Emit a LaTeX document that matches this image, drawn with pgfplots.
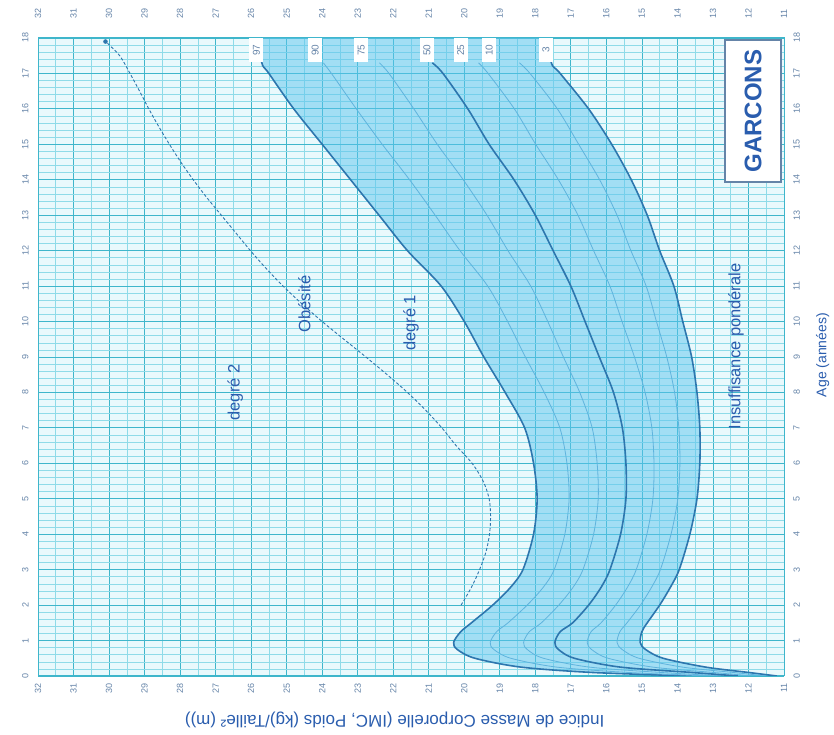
\documentclass[border=0pt]{standalone}
\usepackage{fontspec}
\setmainfont{Liberation Sans}
\usepackage{pgfplots}
\pgfplotsset{compat=1.18}
\usepgfplotslibrary{fillbetween}

\definecolor{gridmaj}{HTML}{3FB6CB}
\definecolor{gridmin}{HTML}{8FDBE8}
\definecolor{bgcyan}{HTML}{E9F9FC}
\definecolor{bandblue}{HTML}{5CC4EE}
\definecolor{curveblue}{HTML}{2D76AE}
\definecolor{thinblue}{HTML}{5FB3DD}
\definecolor{txtblue}{HTML}{2A5DAE}
\definecolor{ticktxt}{HTML}{6584A8}

\begin{document}
\begin{tikzpicture}
\begin{axis}[
    set layers,
    scale only axis, width=746pt, height=638pt,
    x dir=reverse, xmin=11, xmax=32, ymin=0, ymax=18,
    xtick={11,...,32}, ytick={0,...,18},
    minor x tick num=1, minor y tick num=4,
    grid=both,
    major grid style={draw=gridmaj, line width=0.8pt},
    minor grid style={draw=gridmin, line width=0.6pt},
    axis background/.style={fill=bgcyan},
    axis line style={draw=gridmaj, line width=1pt},
    tick style={draw=none},
    tick label style={font=\fontsize{9}{9}\selectfont, text=ticktxt},
    xticklabel style={rotate=90, anchor=east, inner sep=1pt, outer sep=6pt},
    yticklabel style={rotate=90, anchor=south, inner sep=1pt, outer sep=8.5pt},
    /pgf/number format/assume math mode=true,
    every axis plot/.append style={smooth, tension=0.5},
  ]
  % 97e percentile (degre 1)
  \addplot[name path=p97, draw=curveblue, line width=1.6pt] coordinates {
    (13.6,0) (16.4,0.1) (18.4,0.25) (19.7,0.5) (20.2,0.75) (20.3,0.95)
    (20.1,1.25) (19.8,1.5) (19.2,2) (18.7,2.5) (18.35,3) (18.05,4)
    (17.95,5) (18.05,6) (18.3,7) (18.85,8) (19.45,9) (20.0,10) (20.65,11)
    (21.6,12) (22.4,13) (23.2,14) (24.0,15) (24.8,16) (25.5,17) (25.7,17.3) (25.7,18)
  };
  % 3e percentile
  \addplot[name path=p3, draw=curveblue, line width=1.6pt] coordinates {
    (11.2,0) (12.0,0.1) (13.2,0.25) (14.4,0.5) (14.9,0.75) (15.05,0.95)
    (15.0,1.25) (14.85,1.5) (14.5,2) (14.2,2.5) (13.95,3) (13.65,4)
    (13.45,5) (13.37,6) (13.37,7) (13.45,8) (13.6,9) (13.85,10) (14.1,11)
    (14.5,12) (14.85,13) (15.3,14) (15.85,15) (16.5,16) (17.3,17) (17.55,17.3) (17.55,18)
  };
  \addplot[fill=bandblue, fill opacity=0.5, draw=none] fill between[of=p97 and p3];
  % 10e
  \addplot[draw=thinblue, line width=0.8pt] coordinates {
    (11.50,0) (12.43,0.1) (13.85,0.25) (15.08,0.5) (15.56,0.75) (15.70,0.95)
    (15.62,1.25) (15.42,1.5) (15.04,2) (14.73,2.5) (14.48,3) (14.18,4)
    (13.99,5) (13.93,6) (13.96,7) (14.08,8) (14.30,9) (14.59,10) (14.88,11)
    (15.31,12) (15.70,13) (16.19,14) (16.78,15) (17.38,16) (18.15,17) (18.45,17.3)
  };
  % 25e
  \addplot[draw=thinblue, line width=0.8pt] coordinates {
    (11.88,0) (12.99,0.1) (14.69,0.25) (15.95,0.5) (16.42,0.75) (16.54,0.95)
    (16.43,1.25) (16.15,1.5) (15.74,2) (15.41,2.5) (15.16,3) (14.86,4)
    (14.69,5) (14.66,6) (14.72,7) (14.91,8) (15.21,9) (15.56,10) (15.90,11)
    (16.36,12) (16.80,13) (17.35,14) (17.99,15) (18.59,16) (19.33,17) (19.60,17.3)
  };
  % 75e
  \addplot[draw=thinblue, line width=0.8pt] coordinates {
    (12.70,0) (14.47,0.1) (16.47,0.25) (17.77,0.5) (18.23,0.75) (18.33,0.95)
    (18.17,1.25) (17.83,1.5) (17.34,2) (16.94,2.5) (16.66,3) (16.36,4)
    (16.23,5) (16.26,6) (16.40,7) (16.75,8) (17.21,9) (17.65,10) (18.13,11)
    (18.77,12) (19.36,13) (20.03,14) (20.76,15) (21.42,16) (22.12,17) (22.39,17.3)
  };
  % 90e
  \addplot[draw=thinblue, line width=0.8pt] coordinates {
    (13.13,0) (15.39,0.1) (17.39,0.25) (18.69,0.5) (19.17,0.75) (19.27,0.95)
    (19.09,1.25) (18.77,1.5) (18.23,2) (17.78,2.5) (17.47,3) (17.17,4)
    (17.05,5) (17.11,6) (17.31,7) (17.75,8) (18.28,9) (18.78,10) (19.34,11)
    (20.12,12) (20.82,13) (21.54,14) (22.31,15) (23.04,16) (23.74,17) (23.97,17.3)
  };
  % 50e
  \addplot[draw=curveblue, line width=1.6pt] coordinates {
    (12.3,0) (13.6,0.1) (15.6,0.25) (16.9,0.5) (17.35,0.75) (17.45,0.95)
    (17.3,1.25) (16.95,1.5) (16.5,2) (16.15,2.5) (15.9,3) (15.6,4)
    (15.45,5) (15.45,6) (15.55,7) (15.8,8) (16.2,9) (16.6,10) (17.0,11)
    (17.5,12) (18.0,13) (18.6,14) (19.3,15) (19.9,16) (20.6,17) (20.9,17.3)
  };
  % degre 2
  \addplot[draw=curveblue, line width=0.9pt, densely dashed] coordinates {
    (20.09,2) (19.80,2.5) (19.57,3) (19.39,3.5) (19.29,4) (19.26,4.5) (19.30,5)
    (19.47,5.5) (19.78,6) (20.23,6.5) (20.63,7) (21.09,7.5) (21.60,8) (22.17,8.5)
    (22.77,9) (23.39,9.5) (24.00,10) (24.57,10.5) (25.10,11) (25.58,11.5)
    (26.02,12) (26.43,12.5) (26.84,13) (27.25,13.5) (27.63,14) (27.98,14.5)
    (28.30,15) (28.60,15.5) (28.88,16) (29.14,16.5) (29.41,17) (29.70,17.5) (30.10,17.9)
  };
  \addplot[only marks, mark=*, mark size=2pt, color=curveblue] coordinates {(30.1,17.9)};

  \begin{scope}[every node/.style={rotate=90, text=txtblue, font=\fontsize{16.5}{16.5}\selectfont}]
    \node at (axis cs:24.5,10.5) {Obésité};
    \node at (axis cs:26.45,8.0) {degré 2};
    \node at (axis cs:21.5,9.96) {degré 1};
    \node at (axis cs:12.35,9.3) {Insuffisance pondérale};
  \end{scope}
  \begin{scope}[every node/.style={rotate=90, fill=white, text=ticktxt, inner sep=1pt,
      minimum width=24pt, minimum height=14pt, font=\fontsize{10}{10}\selectfont}]
    \node at (axis cs:25.85,17.66) {97};
    \node at (axis cs:24.2,17.66) {90};
    \node at (axis cs:22.9,17.66) {75};
    \node at (axis cs:21.05,17.66) {50};
    \node at (axis cs:20.1,17.66) {25};
    \node at (axis cs:19.3,17.66) {10};
    \node at (axis cs:17.7,17.66) {3};
  \end{scope}
  \node[rotate=90, fill=white, draw=ticktxt, line width=1.5pt, minimum width=142pt,
    minimum height=56pt, text=txtblue, font=\bfseries\fontsize{24}{24}\selectfont]
    at (axis cs:11.87,15.94) {GARCONS};
\end{axis}
\begin{axis}[
    clip=false,
    scale only axis, width=746pt, height=638pt,
    x dir=reverse, xmin=11, xmax=32, ymin=0, ymax=18,
    xtick={11,...,32}, ytick={0,...,18},
    axis line style={draw=none}, tick style={draw=none},
    xticklabel pos=upper, yticklabel pos=right,
    tick label style={font=\fontsize{9}{9}\selectfont, text=ticktxt},
    xticklabel style={rotate=90, anchor=west, inner sep=1pt, outer sep=18pt},
    yticklabel style={rotate=90, anchor=north, inner sep=1pt, outer sep=8.5pt},
    /pgf/number format/assume math mode=true,
  ]
  \node[rotate=90, text=txtblue, font=\fontsize{14}{14}\selectfont]
    at (axis description cs:1.052,0.503) {Age (années)};
  \node[rotate=180, text=txtblue, font=\fontsize{17}{17}\selectfont]
    at (axis description cs:0.478,-0.069) {Indice de Masse Corporelle (IMC, Poids (kg)/Taille² (m))};
\end{axis}
\path (current axis.south west) ++(-38pt,-59pt);
\path (current axis.north east) ++(50pt,38pt);
\end{tikzpicture}
\end{document}
